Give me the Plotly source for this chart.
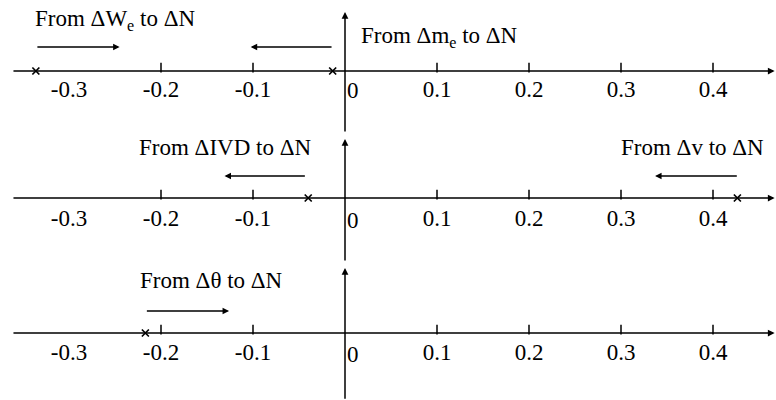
import plotly.graph_objects as go

# ---- data ----
tick_values = [-0.3, -0.2, -0.1, 0.0, 0.1, 0.2, 0.3, 0.4]
tick_labels = ["-0.3", "-0.2", "-0.1", "0", "0.1", "0.2", "0.3", "0.4"]
tick_marks = [-0.2, -0.1, 0.1, 0.2, 0.3, 0.4]

# poles (x marks) per panel
poles_top = [-0.336, -0.0134]
poles_mid = [-0.040, 0.4265]
poles_bot = [-0.217]

# path arrows: (start, end) per transfer function
path_names = ["From ΔW<sub>e</sub> to ΔN", "From Δm<sub>e</sub> to ΔN",
              "From ΔIVD to ΔN", "From Δv to ΔN", "From Δθ to ΔN"]
path_start = [-0.336, -0.013, -0.042, 0.4275, -0.217]
path_end = [-0.245, -0.1025, -0.131, 0.337, -0.126]
path_panel = [0, 0, 1, 1, 2]

# ---- layout constants ----
H = 400
W = 776
PX_PER_UNIT = 60.0
axis_px = [71, 198, 333]
yr = [(-1.15, 1.1), (-1.15, 1.1), (-1.11, 1.15)]
vline = [(-1.033, 0.983), (-1.067, 0.983), (-1.12, 1.083)]
label_y = [-0.33, -0.37, -0.35]
arrow_y = [0.40, 0.367, 0.367]
text_pos = [(-0.250, 0.85), (0.103, 0.57), (-0.130, 0.85), (0.378, 0.85), (-0.145, 0.88)]
xlo, xhi = -0.362, 0.467
FONT = "Liberation Serif, Times New Roman, serif"

fig = go.Figure()
pole_sets = [poles_top, poles_mid, poles_bot]

annotations = []
for i in range(3):
    xa = "x" if i == 0 else f"x{i+1}"
    ya = "y" if i == 0 else f"y{i+1}"
    # tick marks (short vertical strokes sitting on the axis)
    fig.add_trace(go.Scatter(x=tick_marks, y=[0.055] * len(tick_marks), mode="markers",
                             marker=dict(symbol="line-ns", size=7, line=dict(color="black", width=1.5)),
                             xaxis=xa, yaxis=ya, hoverinfo="skip", showlegend=False, cliponaxis=False))
    # tick labels
    lx = [v + (0.0085 if v == 0 else 0.0) for v in tick_values]
    ly = [label_y[i] - (0.03 if v == 0 else 0.0) for v in tick_values]
    fig.add_trace(go.Scatter(x=lx, y=ly, mode="text", text=tick_labels,
                             textfont=dict(family=FONT, size=23, color="black"),
                             xaxis=xa, yaxis=ya, hoverinfo="skip", showlegend=False, cliponaxis=False))
    # poles
    fig.add_trace(go.Scatter(x=pole_sets[i], y=[0]*len(pole_sets[i]), mode="markers",
                             marker=dict(symbol="x-thin", size=7, line=dict(color="black", width=1.7)),
                             xaxis=xa, yaxis=ya, hoverinfo="skip", showlegend=False, cliponaxis=False))
    # horizontal axis with arrow
    annotations.append(dict(x=xhi, y=0, ax=xlo, ay=0, xref=xa, yref=ya, axref=xa, ayref=ya,
                            showarrow=True, arrowhead=2, arrowsize=0.9, arrowwidth=1.5,
                            arrowcolor="black", text=""))
    # vertical axis with arrow
    annotations.append(dict(x=0, y=vline[i][1], ax=0, ay=vline[i][0], xref=xa, yref=ya, axref=xa, ayref=ya,
                            showarrow=True, arrowhead=2, arrowsize=0.9, arrowwidth=1.5,
                            arrowcolor="black", text=""))

for k in range(len(path_names)):
    i = path_panel[k]
    xa = "x" if i == 0 else f"x{i+1}"
    ya = "y" if i == 0 else f"y{i+1}"
    annotations.append(dict(x=path_end[k], y=arrow_y[i], ax=path_start[k], ay=arrow_y[i],
                            xref=xa, yref=ya, axref=xa, ayref=ya,
                            showarrow=True, arrowhead=2, arrowsize=1.0, arrowwidth=1.3,
                            arrowcolor="black", text=""))
    annotations.append(dict(x=text_pos[k][0], y=text_pos[k][1], xref=xa, yref=ya,
                            text=path_names[k], showarrow=False,
                            font=dict(family=FONT, size=23, color="black")))

layout = dict(width=W, height=H, margin=dict(l=0, r=0, t=0, b=0),
              paper_bgcolor="white", plot_bgcolor="rgba(0,0,0,0)",
              annotations=annotations, showlegend=False)
# x range: pixel = 345 + 920*x
x0 = (0 - 345) / 920.0
x1 = (W - 345) / 920.0
for i in range(3):
    sfx = "" if i == 0 else str(i + 1)
    lo, hi = yr[i]
    top_px = axis_px[i] - PX_PER_UNIT * hi
    bot_px = axis_px[i] - PX_PER_UNIT * lo
    dom = [max(0.0, 1 - bot_px / H), min(1.0, 1 - top_px / H)]
    layout["xaxis" + sfx] = dict(range=[x0, x1], visible=False, domain=[0, 1],
                                 anchor="y" + sfx, fixedrange=True)
    layout["yaxis" + sfx] = dict(range=[lo, hi], visible=False, domain=dom,
                                 anchor="x" + sfx, fixedrange=True)

fig.update_layout(**layout)
fig.write_html("out.html", config={"displayModeBar": False},
               post_script="document.body.style.margin='0px';")
